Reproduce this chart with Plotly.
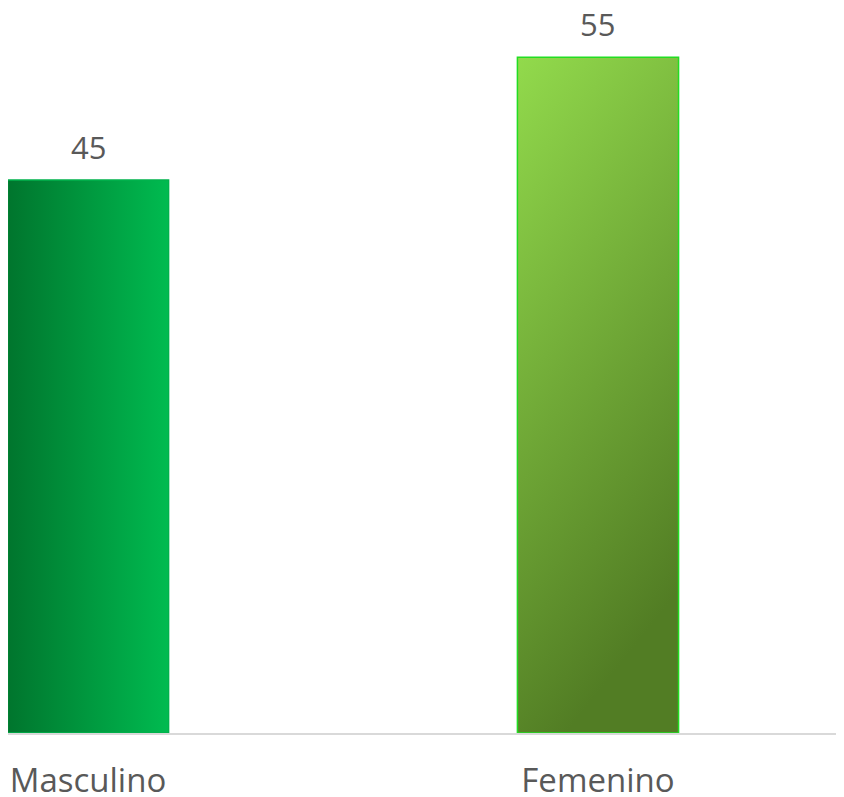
import plotly.graph_objects as go

categories = ['Masculino', 'Femenino']
values = [45, 55]

# gradient per bar: direction x1,y1,x2,y2, start colour, end colour
gradients = [
    ('0', '0', '1', '0', '#00752d', '#00bb50'),
    ('0', '0', '0.3', '1', '#92da4c', '#527d24'),
]
border_colors = ['#00b24c', '#22dd22']
bar_width = 0.316


def gradient_svg(x1, y1, x2, y2, c1, c2):
    svg = (
        "<svg xmlns='http://www.w3.org/2000/svg' width='100' height='100' preserveAspectRatio='none'>"
        "<defs><linearGradient id='g' x1='{}' y1='{}' x2='{}' y2='{}'>"
        "<stop offset='0' stop-color='{}'/><stop offset='1' stop-color='{}'/>"
        "</linearGradient></defs>"
        "<rect width='100' height='100' fill='url(#g)'/></svg>"
    ).format(x1, y1, x2, y2, c1, c2)
    return 'data:image/svg+xml;utf8,' + svg.replace('#', '%23').replace('<', '%3C').replace('>', '%3E')


xs = list(range(len(categories)))

fig = go.Figure()
fig.add_trace(go.Bar(
    x=xs, y=values, width=bar_width,
    marker=dict(color='rgba(0,0,0,0)', line=dict(color=border_colors, width=1.5)),
    hoverinfo='skip'
))

for i, v in enumerate(values):
    fig.add_layout_image(
        source=gradient_svg(*gradients[i]),
        xref='x', yref='y', x=xs[i] - bar_width / 2, y=v,
        sizex=bar_width, sizey=v, sizing='stretch',
        xanchor='left', yanchor='top', layer='below'
    )
    fig.add_annotation(
        x=xs[i], y=v, text=str(v), showarrow=False,
        yanchor='bottom', yshift=10,
        font=dict(family='Open Sans', size=31, color='#595959')
    )

fig.update_layout(
    width=836, height=789,
    margin=dict(l=0, r=0, t=0, b=64),
    plot_bgcolor='white', paper_bgcolor='white',
    showlegend=False,
    font=dict(family='Open Sans', color='#595959'),
)
fig.update_xaxes(
    range=[-0.1569, 1.4824], automargin=False,
    tickvals=xs, ticktext=categories,
    tickfont=dict(size=33, color='#595959'),
    showline=True, linecolor='#d9d9d9', linewidth=2,
    showgrid=False, zeroline=False, ticks='', ticklabelstandoff=17
)
fig.update_yaxes(range=[0, 59.0], visible=False)

fig.write_html('out.html')
